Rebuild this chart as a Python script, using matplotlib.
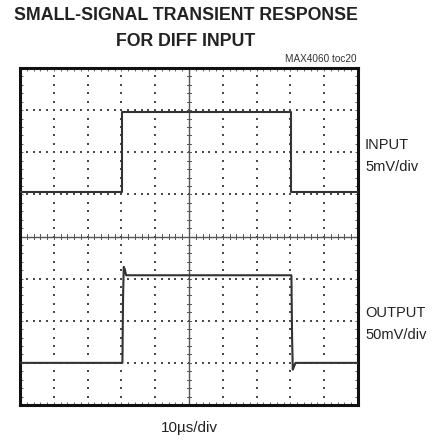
import matplotlib
matplotlib.use("Agg")
import matplotlib.pyplot as plt
import numpy as np

plt.rcParams['font.family'] = ['Liberation Sans', 'DejaVu Sans']

# Data (time in microseconds, amplitude in screen divisions from bottom)
in_t = [0.0, 30.2, 30.2, 80.2, 80.2, 100.0]
in_v = [5.05, 5.05, 6.96, 6.96, 5.05, 5.05]

out_t = [0.0, 30.3, 30.5, 30.7, 31.0, 31.4, 32.0, 80.3, 80.5, 80.7, 81.0, 81.5, 100.0]
out_v = [1.0, 1.0, 2.6, 3.28, 3.22, 3.08, 3.08, 3.08, 1.6, 0.84, 0.9, 1.0, 1.0]

title_lines = ["SMALL-SIGNAL TRANSIENT RESPONSE", "FOR DIFF INPUT"]
note = "MAX4060 toc20"
label_in = ["INPUT", "5mV/div"]
label_out = ["OUTPUT", "50mV/div"]
xlabel = "10\u00b5s/div"

W, H = 435, 441
fig = plt.figure(figsize=(W / 100, H / 100), dpi=100)
ax = fig.add_axes([20 / W, 1 - 405 / H, 338 / W, 337 / H])

grid_col = '#4a4a4a'
xs_minor = np.arange(0, 100.01, 2.0)
ys_minor = np.arange(0, 8.001, 0.2)

# dotted grid: dots every 1/5 division along grid lines
gx_list = [g for g in range(10, 100, 10) if g != 50]
gy_list = [g for g in range(1, 8) if g != 4]
dot_x = np.concatenate([np.full(len(ys_minor), g) for g in gx_list] +
                       [xs_minor for g in gy_list])
dot_y = np.concatenate([ys_minor for g in gx_list] +
                       [np.full(len(xs_minor), g) for g in gy_list])
ax.scatter(dot_x, dot_y, s=1.0, marker='s', color=grid_col, lw=0, zorder=1)

# center cross with tick marks
ax.axhline(4, color='#555555', lw=1.0, zorder=1)
ax.axvline(50, color='#555555', lw=1.0, zorder=1)
for xm in xs_minor:
    ax.plot([xm, xm], [4 - 0.06, 4 + 0.06], color='#555555', lw=0.7, zorder=1)
for ym in ys_minor:
    ax.plot([50 - 0.6, 50 + 0.6], [ym, ym], color='#555555', lw=0.7, zorder=1)

# traces
ax.plot(in_t, in_v, color='#333333', lw=1.5, zorder=3)
ax.plot(out_t, out_v, color='#333333', lw=1.5, zorder=3)

ax.set_xlim(0, 100)
ax.set_ylim(0, 8)
ax.set_xticks([])
ax.set_yticks([])
ax.set_xticks(xs_minor, minor=True)
ax.set_yticks(ys_minor, minor=True)
ax.tick_params(which='minor', direction='in', length=2.0, width=0.6, color=grid_col,
               top=True, right=True, labelbottom=False, labelleft=False)
for sp in ax.spines.values():
    sp.set_linewidth(2.2)
    sp.set_color('#111111')

# texts
fig.text(186 / W, 1 - 15 / H, title_lines[0], ha='center', va='center',
         fontsize=12.8, fontweight='bold', color='#222222')
fig.text(186 / W, 1 - 41 / H, title_lines[1], ha='center', va='center',
         fontsize=12.8, fontweight='bold', color='#222222')
fig.text(357 / W, 1 - 59 / H, note, ha='right', va='center', fontsize=7.2, color='#333333')
fig.text(365 / W, 1 - 145 / H, label_in[0], ha='left', va='center', fontsize=10.5, color='#222222')
fig.text(365 / W, 1 - 167 / H, label_in[1], ha='left', va='center', fontsize=10.5, color='#222222')
fig.text(365 / W, 1 - 313 / H, label_out[0], ha='left', va='center', fontsize=10.5, color='#222222')
fig.text(365 / W, 1 - 335 / H, label_out[1], ha='left', va='center', fontsize=10.5, color='#222222')
fig.text(189 / W, 1 - 428 / H, xlabel, ha='center', va='center', fontsize=11, color='#222222')

fig.savefig('out.png', dpi=100)
